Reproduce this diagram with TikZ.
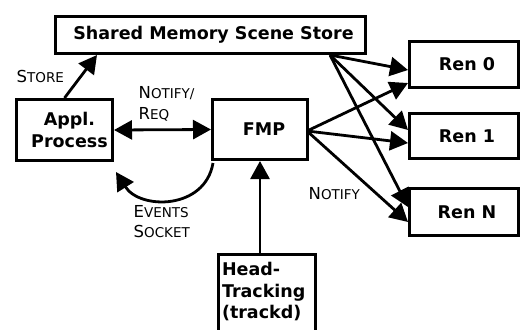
\documentclass[tikz,border=0pt]{standalone}
\usepackage{fontspec}
\setmainfont{DejaVu Sans}
\usetikzlibrary{arrows.meta,calc}
\newcommand\smcap[2]{{\fontsize{16.5}{21}\selectfont #1}{\fontsize{13.5}{21}\selectfont #2}}
\begin{document}
\begin{tikzpicture}[x=1pt,y=-1pt,
  box/.style={draw, line width=3pt, inner sep=0pt, align=center,
    font=\fontsize{17.5}{21.5}\selectfont\bfseries},
  arr/.style={line width=2.8pt, -{Triangle[length=18pt,width=19pt]}},
  dblarr/.style={line width=2.8pt, {Triangle[length=18pt,width=19pt]}-{Triangle[length=18pt,width=19pt]}},
  lbl/.style={inner sep=0pt, anchor=north west, align=left,
    font=\fontsize{16.5}{21}\selectfont}]
\useasboundingbox (0,0) rectangle (521,329);
\clip (0,0) rectangle (521,329);
% boxes
\node[box, minimum width=310pt, minimum height=37pt] (store) at (210.5,35) {\hspace*{6pt}Shared Memory Scene Store};
\node[box, minimum width=96pt, minimum height=61pt] (appl) at (64.5,130) {\hspace*{10pt}Appl.\\\hspace*{10pt}Process};
\node[box, minimum width=95pt, minimum height=60pt] (fmp) at (260,129.5) {\hspace*{8pt}FMP};
\node[box, minimum width=109pt, minimum height=46pt] (ren0) at (464,64.5) {\hspace*{6pt}Ren 0};
\node[box, minimum width=109pt, minimum height=45pt] (ren1) at (464,136) {\hspace*{6pt}Ren 1};
\node[box, minimum width=109pt, minimum height=47pt] (renN) at (464,212) {\hspace*{6pt}Ren N};
\node[draw, line width=3pt, anchor=north west, inner xsep=3.5pt, inner ysep=8pt,
  text width=90pt, align=left, text depth=60pt,
  font=\fontsize{17.5}{21.5}\selectfont\bfseries] (head) at (217,253) {Head-\\Tracking\\(trackd)};
% connectors
\draw[arr] (appl.north) -- ([xshift=43pt]store.south west);
\draw[dblarr] (appl.east) -- (fmp.west);
\draw[arr] ([shift={(2,2)}]fmp.south west) .. controls (205,210) and (140,210) .. ([shift={(2,10)}]appl.south east);
\draw[arr] (head.north -| fmp.south) -- (fmp.south);
\coordinate (so) at ([xshift=276pt]store.south west);
\coordinate (fo) at ([shift={(-2,1.5)}]fmp.east);
\draw[arr] (so) -- ([yshift=-5.5pt]ren0.west);
\draw[arr] (so) -- ([yshift=6pt]ren1.west);
\draw[arr] (so) -- ([yshift=5pt]renN.west);
\draw[arr] (fo) -- ([yshift=-18.5pt]ren0.west);
\draw[arr] (fo) -- ([yshift=-7pt]ren1.west);
\draw[arr] (fo) -- ([yshift=-10pt]renN.west);
% labels
\node[lbl] (lstore) at (16.5,70) {\smcap{S}{TORE}};
\node[lbl] (lnotreq) at (138.5,86) {\smcap{N}{OTIFY/}\\\smcap{R}{EQ}};
\node[lbl, font=\fontsize{16.5}{20}\selectfont] (levents) at (133.5,205) {\smcap{E}{VENTS}\\\smcap{S}{OCKET}};
\node[lbl] (lnotify) at (308.5,187) {\smcap{N}{OTIFY}};
\end{tikzpicture}
\end{document}
